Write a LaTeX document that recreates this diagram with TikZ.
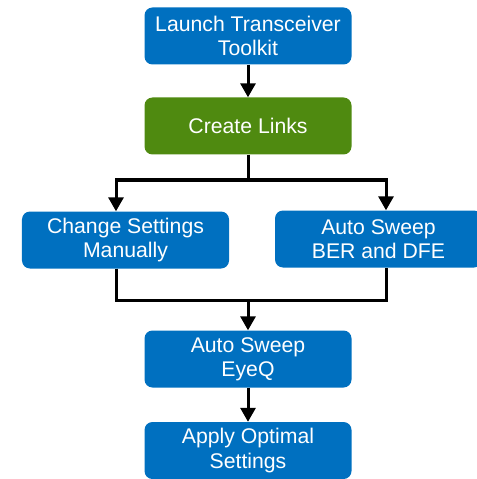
\documentclass[tikz,border=0pt]{standalone}
\usepackage{fontspec}
\setmainfont{Liberation Sans}
\usetikzlibrary{arrows.meta}
\definecolor{boxblue}{RGB}{0,112,192}
\definecolor{boxgreen}{RGB}{79,138,16}
\begin{document}
\begin{tikzpicture}[x=1bp,y=-1bp,
  stepbox/.style={rectangle,rounded corners=8bp,fill=boxblue,text=white,
    minimum width=207bp,minimum height=57bp,inner sep=0pt,align=center,
    font=\fontsize{21.3}{24.5}\selectfont},
  greenbox/.style={stepbox,fill=boxgreen},
  conn/.style={line width=3bp,black},
  arr/.style={conn,-{Triangle[width=15bp,length=14bp]}}]
\useasboundingbox (0,0) rectangle (477,479);
\node[stepbox] (b1) at (248,36) {Launch Transceiver\\Toolkit};
\node[greenbox] (b2) at (248,126) {Create Links};
\node[stepbox] (bl) at (125.5,240) {Change Settings\\Manually};
\node[stepbox] (br) at (378.5,239) {Auto Sweep\\BER and DFE};
\node[stepbox] (b5) at (248,359) {Auto Sweep\\EyeQ};
\node[stepbox] (b6) at (248,450.5) {Apply Optimal\\Settings};
\coordinate (jt) at (248,180);
\coordinate (lt) at (116,180);
\coordinate (rt) at (386,180);
\coordinate (lb) at (116,300);
\coordinate (rb) at (386,300);
\coordinate (jb) at (248,300);
\draw[arr] (b1.south) -- (b2.north);
\draw[conn] (b2.south) -- (jt);
\draw[arr] (jt) -- (lt) -- (lt |- bl.north);
\draw[arr] (jt) -- (rt) -- (rt |- br.north);
\draw[conn] (lb |- bl.south) -- (lb) -- (rb) -- (rb |- br.south);
\draw[arr] (jb) -- (b5.north);
\draw[arr] (b5.south) -- (b6.north);
\end{tikzpicture}
\end{document}
